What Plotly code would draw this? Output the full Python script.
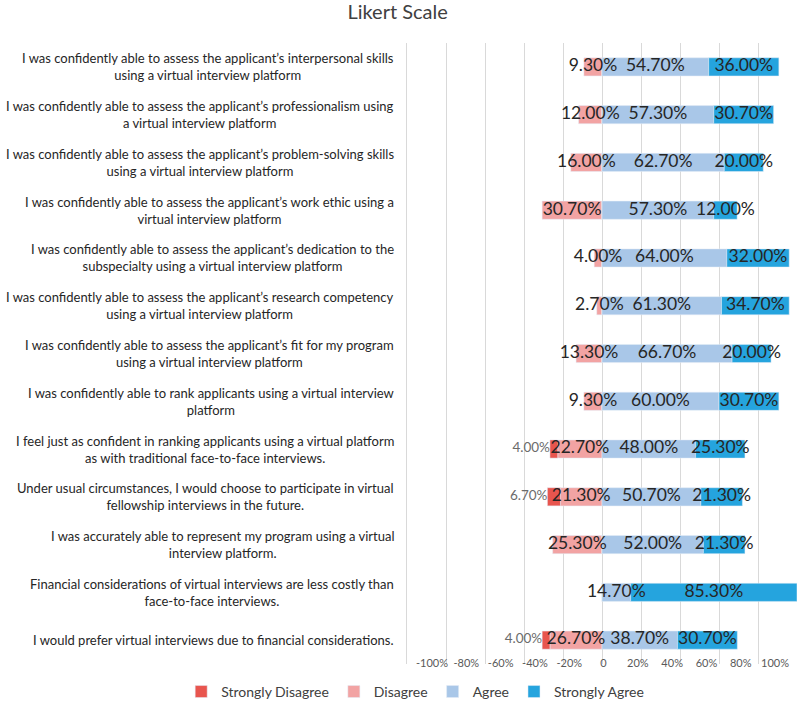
import plotly.graph_objects as go

categories = [
    "I was confidently able to assess the applicant’s interpersonal skills<br>using a virtual interview platform",
    "I was confidently able to assess the applicant’s professionalism using<br>a virtual interview platform",
    "I was confidently able to assess the applicant’s problem-solving skills<br>using a virtual interview platform",
    "I was confidently able to assess the applicant’s work ethic using a<br>virtual interview platform",
    "I was confidently able to assess the applicant’s dedication to the<br>subspecialty using a virtual interview platform",
    "I was confidently able to assess the applicant’s research competency<br>using a virtual interview platform",
    "I was confidently able to assess the applicant’s fit for my program<br>using a virtual interview platform",
    "I was confidently able to rank applicants using a virtual interview<br>platform",
    "I feel just as confident in ranking applicants using a virtual platform<br>as with traditional face-to-face interviews.",
    "Under usual circumstances, I would choose to participate in virtual<br>fellowship interviews in the future.",
    "I was accurately able to represent my program using a virtual<br>interview platform.",
    "Financial considerations of virtual interviews are less costly than<br>face-to-face interviews.",
    "I would prefer virtual interviews due to financial considerations.",
]
strongly_disagree = [0, 0, 0, 0, 0, 0, 0, 0, 4.0, 6.7, 0, 0, 4.0]
disagree = [9.3, 12.0, 16.0, 30.7, 4.0, 2.7, 13.3, 9.3, 22.7, 21.3, 25.3, 0, 26.7]
agree = [54.7, 57.3, 62.7, 57.3, 64.0, 61.3, 66.7, 60.0, 48.0, 50.7, 52.0, 14.7, 38.7]
strongly_agree = [36.0, 30.7, 20.0, 12.0, 32.0, 34.7, 20.0, 30.7, 25.3, 21.3, 21.3, 85.3, 30.7]

x_ticks = [-100, -80, -60, -40, -20, 0, 20, 40, 60, 80, 100]
x_ticktext = ["-100%", "-80%", "-60%", "-40%", "-20%", "0", "20%", "40%", "60%", "80%", "100%"]

c_sd = "#e8554e"
c_d = "#f2a3a3"
c_a = "#a9c7e8"
c_sa = "#25a4de"

FONT = "Lato, sans-serif"
ids = list(range(len(categories)))

def fmt(v):
    return f"{v:.2f}%" if v > 0 else ""

fig = go.Figure()
fig.add_trace(go.Bar(y=ids, x=[-v for v in disagree], orientation="h", name="Disagree",
                     marker_color=c_d, legendrank=2, hoverinfo="skip"))
fig.add_trace(go.Bar(y=ids, x=[-v for v in strongly_disagree], orientation="h", name="Strongly Disagree",
                     marker_color=c_sd, legendrank=1, hoverinfo="skip"))
fig.add_trace(go.Bar(y=ids, x=agree, orientation="h", name="Agree",
                     marker_color=c_a, legendrank=3, hoverinfo="skip"))
fig.add_trace(go.Bar(y=ids, x=strongly_agree, orientation="h", name="Strongly Agree",
                     marker_color=c_sa, legendrank=4, hoverinfo="skip"))

lab_font = dict(family=FONT, size=17.5, color="#262626")
fig.add_trace(go.Scatter(y=ids, x=[-v / 2 for v in disagree], mode="text",
                         text=[fmt(v) for v in disagree], textfont=lab_font,
                         showlegend=False, hoverinfo="skip", cliponaxis=False))
fig.add_trace(go.Scatter(y=ids, x=[v / 2 for v in agree], mode="text",
                         text=[fmt(v) for v in agree], textfont=lab_font,
                         showlegend=False, hoverinfo="skip", cliponaxis=False))
fig.add_trace(go.Scatter(y=ids, x=[a + s / 2 for a, s in zip(agree, strongly_agree)], mode="text",
                         text=[fmt(v) for v in strongly_agree], textfont=lab_font,
                         showlegend=False, hoverinfo="skip", cliponaxis=False))
fig.add_trace(go.Scatter(y=ids, x=[-(d + s) for d, s in zip(disagree, strongly_disagree)], mode="text",
                         text=[fmt(v) for v in strongly_disagree], textposition="middle left",
                         textfont=dict(family=FONT, size=13.5, color="#6b6b6b"),
                         showlegend=False, hoverinfo="skip", cliponaxis=False))
# empty trace that carries the tick-label axis
fig.add_trace(go.Scatter(x=[], y=[], xaxis="x2", showlegend=False, hoverinfo="skip"))

for i, cat in enumerate(categories):
    fig.add_annotation(x=-0.028, xref="paper", y=i, yref="y", text=cat, showarrow=False,
                       xanchor="right", align="center",
                       font=dict(family=FONT, size=13.0, color="#262626"))

fig.update_layout(
    width=800, height=703,
    barmode="relative", bargap=0.62,
    plot_bgcolor="white", paper_bgcolor="white",
    margin=dict(l=407, r=3, t=43, b=39, autoexpand=False),
    title=dict(text="Likert Scale", x=0.497, xanchor="center", y=0.993, yanchor="top",
               font=dict(family=FONT, size=20, color="#404040")),
    xaxis=dict(range=[-100, 100], tickvals=x_ticks, showticklabels=False,
               showgrid=True, gridcolor="#d9d9d9", gridwidth=1, zeroline=False,
               fixedrange=True),
    xaxis2=dict(overlaying="x", side="bottom", anchor="y", range=[-114.6, 112.8],
                tickvals=x_ticks, ticktext=x_ticktext, showgrid=False, zeroline=False,
                ticklabelstandoff=-9,
                tickfont=dict(family=FONT, size=11, color="#595959"), fixedrange=True),
    yaxis=dict(autorange=False, range=[12.5, -0.5], showticklabels=False, showgrid=False,
               zeroline=False, showline=True, linecolor="#d9d9d9", fixedrange=True),
    legend=dict(orientation="h", x=-0.579, xanchor="left", y=-0.045, yanchor="middle",
                font=dict(family=FONT, size=14, color="#404040"),
                itemwidth=30, traceorder="normal"),
    showlegend=True,
)

fig.write_html("out.html", post_script="document.body.style.margin='0';",
               config={"displayModeBar": False})
